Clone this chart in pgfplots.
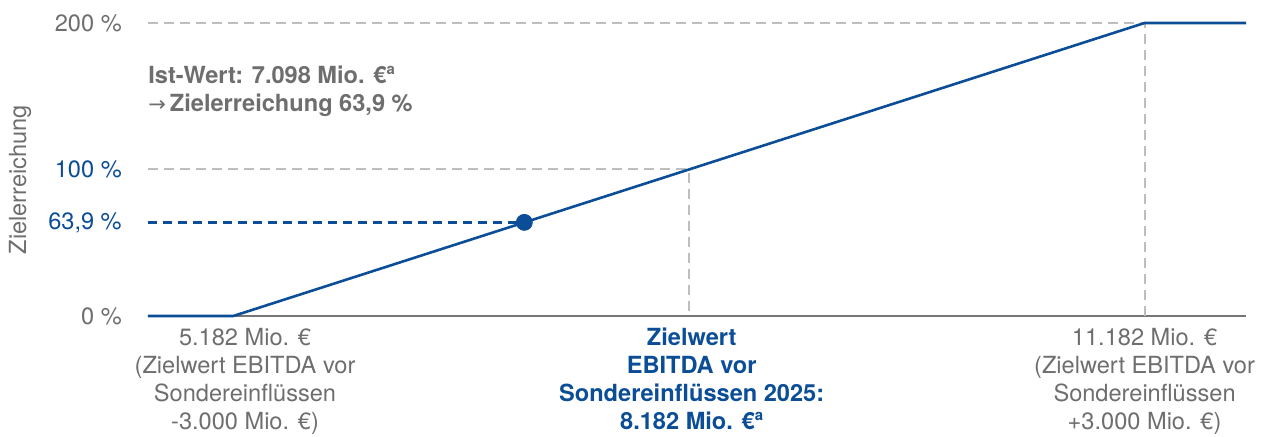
\documentclass[border=0pt]{standalone}
\usepackage{pgfplots}
\pgfplotsset{compat=1.18}
\usepackage{fontspec}
\setmainfont{TeX Gyre Heros}
\newfontfamily\symfont{DejaVu Sans}
\definecolor{zblue}{HTML}{0B4D97}
\definecolor{zgray}{HTML}{6E6E6E}
\definecolor{zdash}{HTML}{BEBEBE}
\definecolor{zaxis}{HTML}{767676}
\newcommand{\supa}{\raisebox{0.75ex}{\fontsize{7.5}{8}\selectfont a}}

\begin{document}
\fontsize{11.8}{14}\selectfont
\begin{tikzpicture}
\begin{axis}[
  at={(0,0)}, anchor=south west, scale only axis,
  width=549pt, height=146.5pt,
  xmin=4.62, xmax=11.85, ymin=0, ymax=200,
  axis lines=left,
  axis line style={-},
  x axis line style={zaxis, line width=1.2pt},
  y axis line style={draw=none},
  xtick=\empty,
  ytick={0,63.9,100,200},
  yticklabels={{\color{zgray}0 \%}, {\color{zblue}63,9 \%}, {\color{zblue}100 \%}, {\color{zgray}200 \%}},
  major tick length=0pt,
  yticklabel style={anchor=east, xshift=-9pt},
  clip=false,
]
% reference lines
\addplot[zdash, line width=1pt, dash pattern=on 5pt off 3pt] coordinates {(4.62,100) (8.182,100) (8.182,0)};
\addplot[zdash, line width=1pt, dash pattern=on 5pt off 3pt] coordinates {(4.62,200) (11.182,200) (11.182,0)};
\addplot[zblue, line width=1.2pt, dash pattern=on 4.5pt off 3pt] coordinates {(4.62,63.9) (7.098,63.9)};
% target curve
\addplot[zblue, line width=1.3pt] coordinates {(4.62,0) (5.182,0) (11.182,200) (11.85,200)};
\addplot[only marks, mark=*, mark size=4pt, zblue] coordinates {(7.098,63.9)};

\node[anchor=north west, inner sep=0pt, align=left, text=zgray, font=\bfseries]
  at (axis cs:4.62,171) {Ist-Wert: 7.098 Mio. €\supa\\{\mdseries\symfont\fontsize{10.5}{14}\selectfont→}\,Zielerreichung 63,9 \%};
\node[rotate=90, text=zgray] at ([xshift=-64pt]axis cs:4.62,93) {Zielerreichung};

\node[anchor=north, inner sep=0pt, align=center, text=zgray] at ([yshift=-6pt]axis cs:5.259,0)
  {5.182 Mio. €\\(Zielwert EBITDA vor\\Sondereinflüssen\\-3.000 Mio. €)};
\node[anchor=north, inner sep=0pt, align=center, text=zblue, font=\bfseries] at ([yshift=-6pt]axis cs:8.2,0)
  {Zielwert\\EBITDA vor\\Sondereinflüssen 2025:\\8.182 Mio. €\supa};
\node[anchor=north, inner sep=0pt, align=center, text=zgray] at ([yshift=-6pt]axis cs:11.182,0)
  {11.182 Mio. €\\(Zielwert EBITDA vor\\Sondereinflüssen\\+3.000 Mio. €)};
\end{axis}
\pgfresetboundingbox
\useasboundingbox (-74pt,-60.5pt) rectangle (559pt,158pt);
\end{tikzpicture}
\end{document}
